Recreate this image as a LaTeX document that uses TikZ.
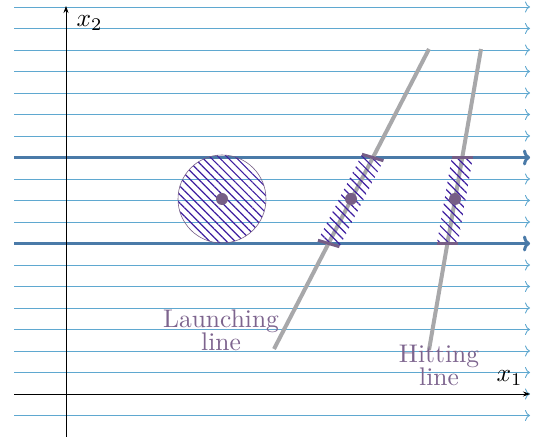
\documentclass[tikz,border=0pt]{standalone}
\usepackage{fontspec}
\usetikzlibrary{arrows.meta,patterns.meta}
\definecolor{thinblue}{RGB}{95,168,208}
\definecolor{thickblue}{RGB}{74,122,168}
\definecolor{lgray}{RGB}{168,168,170}
\definecolor{dotpurple}{RGB}{118,94,134}
\definecolor{hatchc}{RGB}{62,30,160}
\definecolor{txtc}{RGB}{125,100,142}
\tikzset{
  thinflow/.style={thinblue, line width=0.9pt, -{To[length=5pt,width=11pt]}},
  thickflow/.style={thickblue, line width=3pt, -{To[length=7pt,width=16pt,line width=3pt]}},
  axisline/.style={black, line width=0.7pt, -{Stealth[length=7pt,width=5pt]}},
  grayline/.style={lgray, line width=4pt},
  hatched/.style={pattern={Lines[angle=-45,distance=6pt,line width=1.2pt]}, pattern color=hatchc},
  capline/.style={dotpurple, line width=3pt},
  dot/.style={fill=dotpurple, draw=none},
  lbl/.style={txtc, scale=2.55, inner sep=0pt},
  axlbl/.style={black, scale=2.55, inner sep=0pt}
}
\begin{document}
\begin{tikzpicture}[x=1pt,y=1pt]
\useasboundingbox (0,0) rectangle (536,439);
% flow lines
\foreach \k in {-1,0,...,18}{
  \ifnum\k=7\relax\else\ifnum\k=11\relax\else
    \draw[thinflow] (14,{45+21.5*\k}) -- (530,{45+21.5*\k});
  \fi\fi
}
\draw[thickflow] (14,195.5) -- (530,195.5);
\draw[thickflow] (14,281.5) -- (530,281.5);
% axes
\draw[axisline] (14,45) -- (530,45);
\draw[axisline] (66,2) -- (66,433);
\node[axlbl, anchor=base west] (xtwo) at (76,412) {$x_2$};
\node[axlbl, anchor=base west] (xone) at (496,57) {$x_1$};
% disc
\coordinate (c0) at (222,240);
\draw[dotpurple, line width=0.6pt, hatched] (c0) circle[radius=44];
\fill[dot] (c0) circle[radius=6];
% launching line
\coordinate (la) at (274,90);
\coordinate (lb) at (429,390);
\draw[grayline] (la) -- (lb);
\coordinate (lt1) at (362,284.7);
\coordinate (lt2) at (383.4,278.3);
\coordinate (lb1) at (318,198.7);
\coordinate (lb2) at (339.4,192.3);
\fill[hatched] (lt1) -- (lt2) -- (lb2) -- (lb1) -- cycle;
\draw[capline] (lt1) -- (lt2);
\draw[capline] (lb1) -- (lb2);
\fill[dot] (351,240) circle[radius=6];
% hitting line
\coordinate (ha) at (429,89);
\coordinate (hb) at (481,390);
\draw[grayline] (ha) -- (hb);
\coordinate (ht1) at (451.8,281.5);
\coordinate (ht2) at (472.8,281.5);
\coordinate (hb1) at (436.9,195.5);
\coordinate (hb2) at (457.9,195.5);
\fill[hatched] (ht1) -- (ht2) -- (hb2) -- (hb1) -- cycle;
\draw[capline] (ht1) -- (ht2);
\draw[capline] (hb1) -- (hb2);
\fill[dot] (455,240) circle[radius=6];
% labels
\node[lbl, anchor=base] (l1) at (221,111) {Launching};
\node[lbl, anchor=base] (l2) at (221,88.5) {line};
\node[lbl, anchor=base] (h1) at (439,76) {Hitting};
\node[lbl, anchor=base] (h2) at (439,53.5) {line};
\end{tikzpicture}
\end{document}
